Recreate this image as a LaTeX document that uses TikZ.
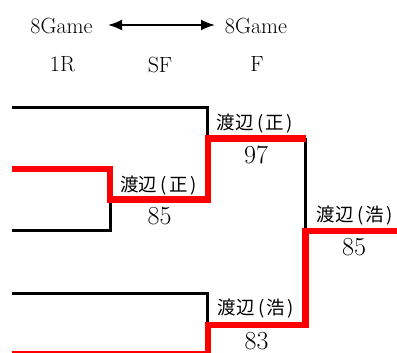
\documentclass[tikz,border=0pt]{standalone}
\usepackage{fontspec}
\newfontfamily\cjk{Noto Sans CJK JP}
\usetikzlibrary{arrows.meta}
\newcommand{\pn}[2]{#1\kern3.5pt(\kern2.5pt#2\kern2.5pt)}
\begin{document}
\begin{tikzpicture}[x=1pt,y=-1pt,
  blk/.style={line width=3pt, line join=miter},
  redl/.style={line width=6.5pt, red, line join=miter},
  thinred/.style={line width=1.5pt, red},
  hdr/.style={font=\fontsize{22}{22}\selectfont, inner sep=0pt},
  score/.style={font=\fontsize{26}{26}\selectfont, inner sep=0pt},
  pname/.style={font=\cjk\fontsize{18.5}{18.5}\selectfont, inner sep=0pt}]
\useasboundingbox (0,0) rectangle (397,353);
% header
\node[hdr] (g1) at (61.5,25.5) {8Game};
\node[hdr] (g2) at (256,25.5) {8Game};
\coordinate (al) at (108,25);
\coordinate (ar) at (215,25);
\draw[line width=2pt, {Latex[length=14pt,width=11pt]}-{Latex[length=14pt,width=11pt]}] (al) -- (ar);
\node[hdr] (r1) at (62.5,64.5) {1R};
\node[hdr] (sf) at (160,64.5) {SF};
\node[hdr] (fi) at (257,64.5) {F};
% bracket coordinates
\coordinate (t1) at (12,107.5);
\coordinate (t2) at (207.5,107.5);
\coordinate (t3) at (207.5,137);
\coordinate (m1) at (12,169);
\coordinate (m2) at (110,169);
\coordinate (m3) at (110,199.5);
\coordinate (m4) at (208,199.5);
\coordinate (m5) at (208,138.5);
\coordinate (m6) at (305.5,138.5);
\coordinate (b1) at (110,199.5);
\coordinate (b2) at (110,230.5);
\coordinate (b3) at (12,230.5);
\coordinate (f1) at (305.5,231);
\coordinate (f2) at (397,231);
\coordinate (f3) at (305.5,325);
\coordinate (f4) at (208,325);
\coordinate (f5) at (208,354);
\coordinate (l1) at (12,293.5);
\coordinate (l2) at (207.5,293.5);
\coordinate (l3) at (207.5,323);
\coordinate (z1) at (12,352.2);
\coordinate (z2) at (208,352.2);
% black lines
\draw[blk] (t1) -- (t2) -- (t3);
\draw[blk] (b1) -- (b2) -- (b3);
\draw[blk] (m6) -- (f1);
\draw[blk] (l1) -- (l2) -- (l3);
% red lines
\draw[redl] (m1) -- (m2) -- (m3) -- (m4) -- (m5) -- (m6);
\draw[redl] (f2) -- (f1) -- (f3) -- (f4) -- (f5);
\draw[thinred] (z1) -- (z2);
% labels
\node[pname] (n1) at (255,123.5) {\pn{渡辺}{正}};
\node[score] (s1) at (256,155) {97};
\node[pname] (n2) at (158.5,185.5) {\pn{渡辺}{正}};
\node[score] (s2) at (159.5,216) {85};
\node[pname] (n3) at (355,216) {\pn{渡辺}{浩}};
\node[score] (s3) at (354,247.5) {85};
\node[pname] (n4) at (256,308.5) {\pn{渡辺}{浩}};
\node[score] (s4) at (256.5,341) {83};
\end{tikzpicture}
\end{document}
